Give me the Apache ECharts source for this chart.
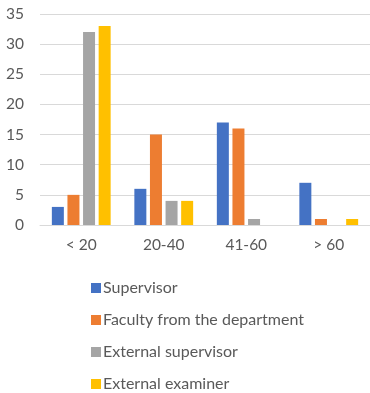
<!DOCTYPE html>
<html>
<head>
<meta charset="utf-8">
<script src="https://cdn.jsdelivr.net/npm/echarts@6/dist/echarts.min.js"></script>
<style>
  html, body { margin: 0; padding: 0; background: #fff; }
  #chart { width: 370px; height: 393px; }
</style>
</head>
<body>
<div id="chart"></div>
<script>
// Age groups on the x axis
const categories = ['< 20', '20-40', '41-60', '> 60'];

// Counts per role
const supervisor = [3, 6, 17, 7];
const faculty = [5, 15, 16, 1];
const externalSupervisor = [32, 4, 1, 0];
const externalExaminer = [33, 4, 0, 1];

const seriesNames = ['Supervisor', 'Faculty from the department', 'External supervisor', 'External examiner'];
const seriesValues = [supervisor, faculty, externalSupervisor, externalExaminer];
const colors = ['#4472C4', '#ED7D31', '#A5A5A5', '#FFC000'];

const font = 'Lato, "Open Sans", sans-serif';

const chart = echarts.init(document.getElementById('chart'), null, { renderer: 'canvas' });
chart.setOption({
  animation: false,
  textStyle: { fontFamily: font },
  grid: { left: 40, right: -2, top: 14, bottom: 168, containLabel: false },
  xAxis: {
    type: 'category',
    data: categories,
    axisLine: { show: true, lineStyle: { color: '#D9D9D9', width: 1 } },
    axisTick: { show: false },
    axisLabel: { color: '#595959', fontSize: 15.5, fontFamily: font, margin: 12 }
  },
  yAxis: {
    type: 'value',
    min: 0,
    max: 35,
    interval: 5,
    axisLine: { show: false },
    axisTick: { show: false },
    splitLine: { lineStyle: { color: '#D9D9D9', width: 1 } },
    axisLabel: { color: '#595959', fontSize: 15.5, fontFamily: font, margin: 16 }
  },
  legend: {
    orient: 'vertical',
    left: 86,
    top: 275,
    height: 118,
    itemWidth: 10,
    itemHeight: 10,
    itemGap: 16,
    icon: 'rect',
    textStyle: { color: '#595959', fontSize: 16, fontFamily: font, padding: [0, 0, 0, -3] },
    data: seriesNames
  },
  series: seriesNames.map((name, i) => ({
    name: name,
    type: 'bar',
    data: seriesValues[i],
    barWidth: 12,
    barGap: '30%',
    itemStyle: { color: colors[i] }
  }))
});
</script>
</body>
</html>
